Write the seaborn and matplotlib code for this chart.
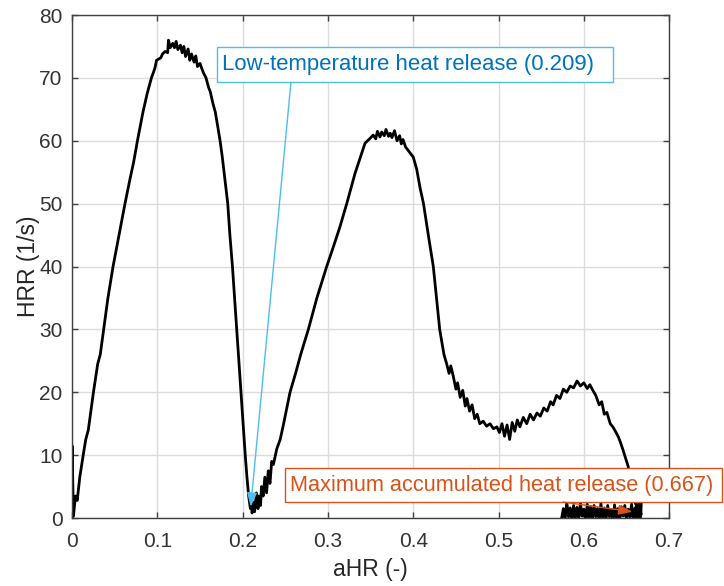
import matplotlib
matplotlib.use("Agg")
import matplotlib.pyplot as plt
from matplotlib.patches import Rectangle
import seaborn as sns
import pandas as pd

# ---- data (rows of 10 points, x and y aligned) ----
ahr = [
    0.000, 0.000, 0.0015, 0.004, 0.006, 0.009, 0.013, 0.016, 0.019, 0.022,
    0.025, 0.030, 0.033, 0.037, 0.042, 0.048, 0.055, 0.062, 0.068, 0.072,
    0.0766, 0.083, 0.088, 0.093, 0.097, 0.099, 0.104, 0.106, 0.109, 0.112,
    0.113, 0.115, 0.118, 0.120, 0.122, 0.124, 0.127, 0.129, 0.131, 0.133,
    0.136, 0.138, 0.140, 0.143, 0.145, 0.147, 0.150, 0.152, 0.154, 0.157,
    0.160, 0.162, 0.165, 0.168, 0.171, 0.1735, 0.176, 0.179, 0.1825, 0.185,
    0.188, 0.193, 0.198, 0.203, 0.205, 0.207, 0.209, 0.210, 0.211, 0.213,
    0.214, 0.216, 0.218, 0.219, 0.221, 0.222, 0.224, 0.226, 0.228, 0.230,
    0.232, 0.234, 0.236, 0.240, 0.244, 0.248, 0.2555, 0.262, 0.268, 0.277,
    0.287, 0.2985, 0.306, 0.314, 0.322, 0.3317, 0.337, 0.3434, 0.348, 0.353,
    0.356, 0.358, 0.361, 0.363, 0.366, 0.368, 0.371, 0.373, 0.375, 0.378,
    0.381, 0.384, 0.386, 0.388, 0.391, 0.395, 0.400, 0.404, 0.408, 0.412,
    0.418, 0.4235, 0.431, 0.436, 0.439, 0.442, 0.444, 0.447, 0.450, 0.452,
    0.455, 0.458, 0.461, 0.463, 0.466, 0.469, 0.472, 0.475, 0.478, 0.482,
    0.486, 0.490, 0.494, 0.498, 0.501, 0.504, 0.507, 0.510, 0.513, 0.516,
    0.519, 0.522, 0.525, 0.529, 0.533, 0.537, 0.541, 0.545, 0.549, 0.553,
    0.557, 0.561, 0.564, 0.568, 0.572, 0.576, 0.580, 0.584, 0.588, 0.592,
    0.596, 0.600, 0.604, 0.607, 0.611, 0.614, 0.618, 0.621, 0.624, 0.627,
    0.631, 0.634, 0.637, 0.6405, 0.643, 0.646, 0.649, 0.652, 0.655, 0.658,
    0.660, 0.663, 0.665, 0.667,
    # tail that runs back along the bottom
    0.667, 0.666, 0.664, 0.662, 0.660, 0.658, 0.656, 0.654, 0.652, 0.650,
    0.648, 0.646, 0.644, 0.642, 0.640, 0.638, 0.636, 0.634, 0.632, 0.630,
    0.628, 0.626, 0.624, 0.622, 0.620, 0.618, 0.616, 0.614, 0.612, 0.610,
    0.608, 0.606, 0.604, 0.602, 0.600, 0.598, 0.596, 0.594, 0.592, 0.590,
    0.588, 0.586, 0.584, 0.582, 0.580, 0.578, 0.576, 0.574, 0.572,
]
hrr = [
    0.0, 11.5, 0.3, 3.5, 2.8, 6.5, 10.0, 12.5, 14.0, 17.0,
    20.0, 24.5, 26.0, 30.0, 35.0, 40.0, 45.0, 50.0, 54.0, 56.5,
    60.0, 64.5, 67.5, 70.0, 71.5, 72.8, 73.2, 73.8, 74.2, 74.0,
    76.0, 74.8, 75.5, 74.8, 75.8, 74.5, 75.2, 74.0, 75.0, 73.4,
    74.6, 72.8, 73.8, 72.5, 73.5, 71.8, 72.3, 71.5, 70.8, 70.0,
    68.5, 67.8, 66.0, 64.5, 62.0, 60.0, 57.5, 54.0, 50.0, 45.0,
    40.0, 30.0, 20.0, 10.0, 6.5, 3.5, 1.5, 3.0, 0.8, 2.5,
    1.0, 4.0, 1.5, 3.5, 2.0, 5.0, 3.5, 6.5, 4.0, 7.5,
    5.5, 9.0, 8.5, 11.0, 12.5, 15.0, 20.0, 23.0, 26.0, 30.0,
    35.0, 40.0, 43.0, 46.3, 50.0, 54.8, 57.0, 59.6, 60.2, 60.9,
    60.3, 61.5, 60.6, 61.4, 60.8, 61.8, 60.7, 61.2, 60.5, 61.6,
    60.0, 60.8, 59.5, 60.2, 59.0, 58.3, 57.4, 55.5, 52.5, 50.0,
    44.7, 40.0, 30.0, 26.0, 24.6, 23.0, 24.2, 22.5, 20.5, 21.5,
    19.2, 20.3, 17.8, 19.0, 17.0, 18.0, 15.8, 16.5, 15.0, 15.4,
    14.6, 15.0, 14.2, 14.5, 13.6, 15.0, 13.0, 14.8, 12.5, 15.2,
    13.8, 15.6, 14.5, 16.0, 15.0, 16.5, 15.6, 16.7, 16.2, 17.5,
    17.0, 18.5, 18.0, 19.5, 19.0, 20.5, 20.0, 21.0, 20.7, 21.8,
    21.0, 21.5, 20.6, 21.2, 20.2, 19.5, 18.0, 18.5, 16.5, 16.8,
    15.0, 14.5, 13.8, 12.9, 12.0, 10.8, 9.5, 8.2, 6.0, 4.0,
    2.5, 1.5, 2.8, 0.5,
    # tail
    2.6, -0.5, 2.0, 0.0, 1.6, -0.5, 2.2, 0.2, 1.4, -0.5,
    2.0, 0.3, 1.8, -0.4, 1.5, 0.0, 2.1, -0.5, 1.3, 0.2,
    2.0, -0.3, 1.6, 0.0, 2.3, -0.5, 1.5, 0.2, 2.0, -0.4,
    1.8, 0.0, 2.2, -0.5, 1.4, 0.3, 2.4, -0.2, 1.7, 0.0,
    2.0, -0.5, 1.6, 0.2, 2.5, -0.3, 1.5, 0.0, -0.5,
]

x_ticks = [0, 0.1, 0.2, 0.3, 0.4, 0.5, 0.6, 0.7]
x_tick_labels = ["0", "0.1", "0.2", "0.3", "0.4", "0.5", "0.6", "0.7"]
y_ticks = [0, 10, 20, 30, 40, 50, 60, 70, 80]
y_tick_labels = ["0", "10", "20", "30", "40", "50", "60", "70", "80"]

lthr_label = "Low-temperature heat release (0.209)"
lthr_point = (0.2094, 1.8)
max_label = "Maximum accumulated heat release (0.667)"
max_point = (0.657, 1.0)

n = min(len(ahr), len(hrr))
df = pd.DataFrame({"aHR": ahr[:n], "HRR": hrr[:n]})

sns.set_style("ticks")
plt.rcParams["font.family"] = ["Liberation Sans", "DejaVu Sans"]

fig = plt.figure(figsize=(7.24, 5.86), dpi=100)
ax = fig.add_axes([0.0996, 0.1160, 0.8246, 0.8584])

sns.lineplot(data=df, x="aHR", y="HRR", sort=False, estimator=None,
             color="black", linewidth=2.0, ax=ax)

ax.set_xlim(0, 0.7)
ax.set_ylim(0, 80)
ax.set_xticks(x_ticks)
ax.set_xticklabels(x_tick_labels)
ax.set_yticks(y_ticks)
ax.set_yticklabels(y_tick_labels)
ax.grid(True, color="#dcdcdc", linewidth=1.0)
ax.set_axisbelow(True)
ax.tick_params(direction="in", length=4, width=1, colors="#404040",
               labelsize=15, labelcolor="#333333", top=True, right=True)
ax.tick_params(axis="x", pad=10)
ax.tick_params(axis="y", pad=7)
for s in ax.spines.values():
    s.set_color("#404040")
    s.set_linewidth(1.0)
ax.set_xlabel("aHR (-)", fontsize=16.5, color="#262626", labelpad=5)
ax.set_ylabel("HRR (1/s)", fontsize=16.5, color="#262626", labelpad=-1)

# annotations (MATLAB-style text boxes with arrows)
blue_txt = "#0072BD"
blue_ln = "#4DBEEE"
orange = "#D95319"

def text_arrow(label, point, box, text_x, arrow_x, txt_color, line_color, fs):
    x0, x1, y0, y1 = box
    ax.add_patch(Rectangle((x0, y0), x1 - x0, y1 - y0, facecolor="white",
                           edgecolor=line_color, linewidth=1.0, zorder=6,
                           clip_on=False))
    ax.text(text_x, (y0 + y1) / 2, label, ha="left", va="center",
            fontsize=fs, color=txt_color, zorder=7, clip_on=False)
    ax.annotate("", xy=point, xytext=(arrow_x, y0),
                arrowprops=dict(arrowstyle="-|>,head_length=0.7,head_width=0.25",
                                color=line_color, lw=1.0, shrinkA=0, shrinkB=0,
                                mutation_scale=12),
                annotation_clip=False, zorder=6)

text_arrow(lthr_label, lthr_point, (0.1699, 0.6341, 69.32, 74.88), 0.1757, 0.2566,
           blue_txt, blue_ln, 15.9)
text_arrow(max_label, max_point, (0.2496, 0.7619, 2.54, 7.95), 0.2555, 0.5755,
           orange, orange, 15.7)

fig.savefig("out.png", dpi=100)
